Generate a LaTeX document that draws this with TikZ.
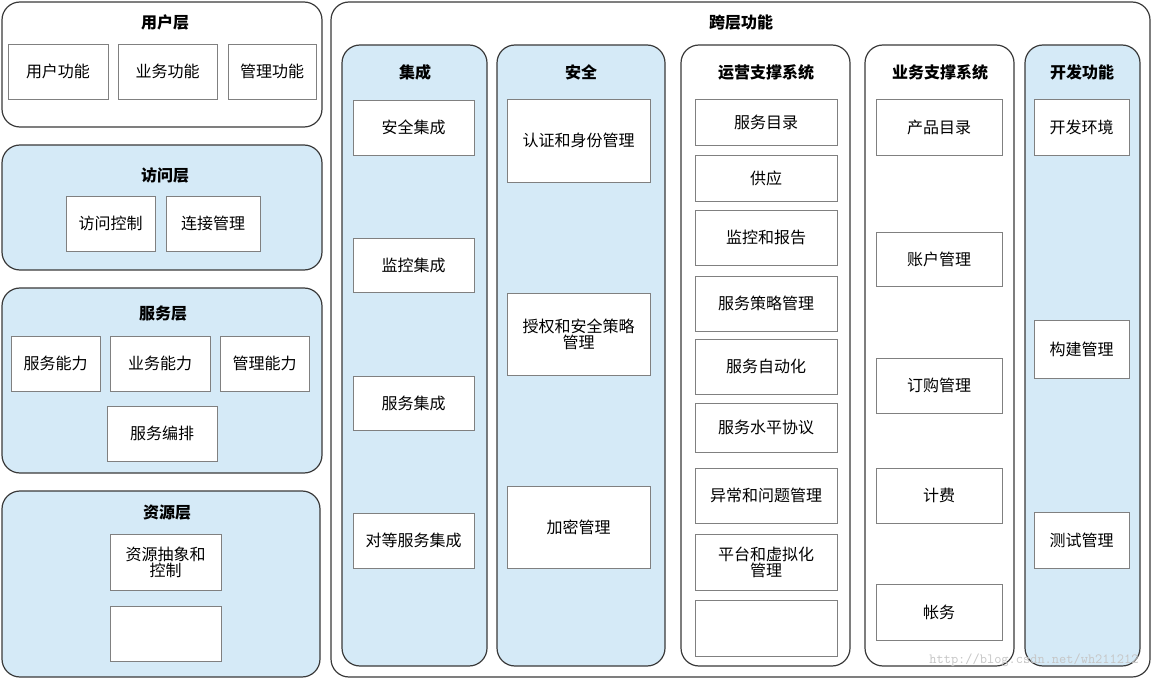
\documentclass[tikz,border=0pt]{standalone}
\usepackage{fontspec}
\setmainfont{Noto Sans CJK SC}
\usetikzlibrary{positioning, calc}
\definecolor{layerblue}{HTML}{D5EAF7}
\definecolor{linegray}{HTML}{3A3A3A}

\begin{document}
\begin{tikzpicture}[x=1pt,y=-1pt,
	layer/.style={draw=linegray,line width=1.2pt,rounded corners=18pt},
	item/.style={draw=gray,fill=white,line width=0.6pt,align=center,font=\fontsize{16}{19}\selectfont},
	title/.style={font=\fontsize{16}{19}\selectfont\bfseries}]

	\useasboundingbox (0,0) rectangle (1152,679);

	% layers on the left
	\draw[layer,fill=white] (2,2) rectangle (322,127);
	\draw[layer,fill=layerblue] (2,145) rectangle (322,270);
	\draw[layer,fill=layerblue] (2,288) rectangle (322,473);
	\draw[layer,fill=layerblue] (2,491) rectangle (320,677);
	\node[title] (user) at (165,22) {用户层};
	\node[title] (access) at (165,175) {访问层};
	\node[title] (service) at (163,314) {服务层};
	\node[title] (resource) at (167,513) {资源层};

	\newcommand{\bx}[6]{\draw[item] (#2,#3) rectangle (#4,#5) node[midway] (#1) {#6};}
	\bx{u1}{8}{44}{108}{99}{用户功能}
	\bx{u2}{118}{44}{217}{99}{业务功能}
	\bx{u3}{228}{44}{316}{99}{管理功能}
	\bx{a1}{66}{196}{155}{251}{访问控制}
	\bx{a2}{166}{196}{260}{251}{连接管理}
	\bx{s1}{11}{336}{100}{391}{服务能力}
	\bx{s2}{110}{336}{210}{391}{业务能力}
	\bx{s3}{220}{336}{309}{391}{管理能力}
	\bx{s4}{107}{406}{217}{461}{服务编排}
	\bx{r1}{110}{534}{221}{590}{资源抽象和\\[-3pt]控制}
	\bx{r2}{110}{606}{221}{661}{}

	% cross layer functions
	\draw[layer,fill=white] (331,2) rectangle (1150,677);
	\node[title] (cross) at (741,22) {跨层功能};
	\draw[layer,fill=layerblue] (342,45) rectangle (487,666);
	\draw[layer,fill=layerblue] (497,45) rectangle (665,666);
	\draw[layer,fill=white] (681,45) rectangle (850,666);
	\draw[layer,fill=white] (865,45) rectangle (1014,666);
	\draw[layer,fill=layerblue] (1025,45) rectangle (1140,666);
	\node[title] (integ) at (415,72) {集成};
	\node[title] (secur) at (581,72) {安全};
	\node[title] (oss) at (766,72) {运营支撑系统};
	\node[title] (bss) at (940,72) {业务支撑系统};
	\node[title] (dev) at (1082,72) {开发功能};

	\bx{i1}{353}{100}{474}{155}{安全集成}
	\bx{i2}{353}{238}{474}{292}{监控集成}
	\bx{i3}{353}{376}{474}{430}{服务集成}
	\bx{i4}{353}{513}{474}{568}{对等服务集成}

	\bx{c1}{507}{99}{650}{182}{认证和身份管理}
	\bx{c2}{507}{293}{650}{375}{授权和安全策略\\[-3pt]管理}
	\bx{c3}{507}{486}{650}{568}{加密管理}

	\bx{o1}{695}{99}{837}{145}{服务目录}
	\bx{o2}{695}{155}{837}{201}{供应}
	\bx{o3}{695}{210}{837}{265}{监控和报告}
	\bx{o4}{695}{276}{837}{331}{服务策略管理}
	\bx{o5}{695}{339}{837}{394}{服务自动化}
	\bx{o6}{695}{403}{837}{452}{服务水平协议}
	\bx{o7}{695}{468}{837}{523}{异常和问题管理}
	\bx{o8}{695}{534}{837}{590}{平台和虚拟化\\[-3pt]管理}
	\bx{o9}{695}{600}{837}{656}{}

	\bx{b1}{876}{99}{1002}{155}{产品目录}
	\bx{b2}{876}{232}{1002}{286}{账户管理}
	\bx{b3}{876}{358}{1002}{413}{订购管理}
	\bx{b4}{876}{468}{1002}{523}{计费}
	\bx{b5}{876}{584}{1002}{640}{帐务}

	\bx{d1}{1034}{99}{1129}{155}{开发环境}
	\bx{d2}{1034}{320}{1129}{378}{构建管理}
	\bx{d3}{1034}{512}{1129}{568}{测试管理}

	\node[text=gray!45,font=\ttfamily\fontsize{14}{16}\selectfont,anchor=east] (mark) at (1142,660) {http://blog.csdn.net/wh211212};
\end{tikzpicture}
\end{document}
